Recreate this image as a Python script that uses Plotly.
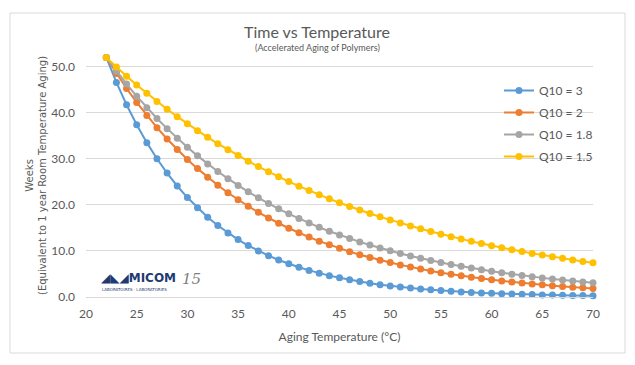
import plotly.graph_objects as go

temps = list(range(22, 71))

q10_3 = [52.0, 46.59, 41.74, 37.40, 33.51, 30.02, 26.90, 24.10, 21.59, 19.35,
         17.33, 15.53, 13.91, 12.47, 11.17, 10.01, 8.97, 8.03, 7.20, 6.45,
         5.78, 5.18, 4.64, 4.16, 3.72, 3.34, 2.99, 2.68, 2.40, 2.15,
         1.93, 1.73, 1.55, 1.39, 1.24, 1.11, 1.00, 0.89, 0.80, 0.72,
         0.64, 0.58, 0.52, 0.46, 0.41, 0.37, 0.33, 0.30, 0.27]

q10_2 = [52.0, 48.52, 45.27, 42.24, 39.41, 36.77, 34.31, 32.01, 29.87, 27.87,
         26.00, 24.26, 22.64, 21.12, 19.70, 18.39, 17.15, 16.01, 14.93, 13.93,
         13.00, 12.13, 11.32, 10.56, 9.85, 9.19, 8.58, 8.00, 7.47, 6.97,
         6.50, 6.07, 5.66, 5.28, 4.93, 4.60, 4.29, 4.00, 3.73, 3.48,
         3.25, 3.03, 2.83, 2.64, 2.46, 2.30, 2.14, 2.00, 1.87]

q10_18 = [52.0, 49.03, 46.23, 43.59, 41.11, 38.76, 36.55, 34.46, 32.49, 30.64,
          28.89, 27.24, 25.69, 24.22, 22.84, 21.53, 20.30, 19.14, 18.05, 17.02,
          16.05, 15.13, 14.27, 13.46, 12.69, 11.96, 11.28, 10.64, 10.03, 9.46,
          8.92, 8.41, 7.93, 7.48, 7.05, 6.65, 6.27, 5.91, 5.57, 5.25,
          4.95, 4.67, 4.40, 4.15, 3.92, 3.69, 3.48, 3.28, 3.10]

q10_15 = [52.0, 49.93, 47.95, 46.04, 44.22, 42.46, 40.77, 39.15, 37.60, 36.10,
          34.67, 33.29, 31.97, 30.70, 29.48, 28.31, 27.18, 26.10, 25.06, 24.07,
          23.11, 22.19, 21.31, 20.46, 19.65, 18.87, 18.12, 17.40, 16.71, 16.05,
          15.41, 14.80, 14.21, 13.64, 13.10, 12.58, 12.08, 11.60, 11.14, 10.70,
          10.27, 9.86, 9.47, 9.10, 8.73, 8.39, 8.05, 7.73, 7.43]

series_names = ["Q10 = 3", "Q10 = 2", "Q10 = 1.8", "Q10 = 1.5"]
series_vals = [q10_3, q10_2, q10_18, q10_15]
colors = ["#5B9BD5", "#ED7D31", "#A5A5A5", "#FFC000"]

x_ticks = [20, 25, 30, 35, 40, 45, 50, 55, 60, 65, 70]
y_ticks = [0, 10, 20, 30, 40, 50]

fig = go.Figure()
for i, (name, vals, col) in enumerate(zip(series_names, series_vals, colors)):
    fig.add_trace(go.Scatter(
        x=temps, y=vals, name=name, mode="lines+markers",
        line=dict(color=col, width=2),
        marker=dict(color=col, size=7),
        cliponaxis=False, legendgroup=str(i)))

font_main = "Lato, 'Open Sans', sans-serif"
grey = "#595959"

# page body has an 8px default margin; work in screen pixels and subtract it
OFF = 8
FW, FH = 635 - OFF, 365 - OFF
L, R, T, B = 86 - OFF, 593 - OFF, 56 - OFF, 297 - OFF
W, H = R - L, B - T


def px(x):
    return (x - OFF - L) / W


def py(y):
    return (B - (y - OFF)) / H


fig.update_layout(
    width=FW, height=FH,
    margin=dict(l=L, r=FW - R, t=T, b=FH - B, autoexpand=False),
    paper_bgcolor="white", plot_bgcolor="white",
    font=dict(family=font_main, color=grey, size=12),
    showlegend=True,
    legend=dict(x=px(499), y=py(76), xanchor="left", yanchor="top",
                bgcolor="rgba(0,0,0,0)", font=dict(size=12, color=grey),
                tracegroupgap=3, itemwidth=30),
    xaxis=dict(range=[20, 70], tickvals=x_ticks, showgrid=False,
               showline=True, linecolor="#d9d9d9", linewidth=1,
               ticks="", zeroline=False, ticklabelstandoff=6, automargin=False,
               tickfont=dict(size=12, color=grey),
               title=dict(text="Aging Temperature (°C)", font=dict(size=12, color=grey),
                          standoff=12)),
    yaxis=dict(range=[0, 52.32], tickvals=y_ticks, tickformat=".1f",
               showgrid=True, gridcolor="#d9d9d9", gridwidth=1,
               zeroline=False, showline=False, ticks="", ticklabelstandoff=10,
               automargin=False,
               tickfont=dict(size=12, color=grey)),
)

# y-axis title (two lines, rotated)
fig.add_annotation(text="Weeks<br>(Equivalent to 1 year Room Temperature Aging)",
                   xref="paper", yref="paper", x=px(36), y=py(176),
                   xanchor="center", yanchor="middle", textangle=-90, showarrow=False,
                   font=dict(size=10, family="DejaVu Sans", color=grey))

# outer chart border
fig.add_shape(type="rect", xref="paper", yref="paper",
              x0=px(10), x1=px(625), y0=py(353), y1=py(13),
              line=dict(color="#d9d9d9", width=1), fillcolor="rgba(0,0,0,0)", layer="below")

fig.add_annotation(text="Time vs Temperature", xref="paper", yref="paper",
                   x=px(317), y=py(32), showarrow=False, yanchor="middle",
                   font=dict(size=16, color=grey, family=font_main))
fig.add_annotation(text="(Accelerated Aging of Polymers)", xref="paper", yref="paper",
                   x=px(317), y=py(48), showarrow=False, yanchor="middle",
                   font=dict(size=9, color=grey, family=font_main))

# logo approximation
fig.add_annotation(text="<b>◢◣◢MICOM</b>", xref="paper", yref="paper",
                   x=px(99), y=py(278), xanchor="left", yanchor="middle",
                   showarrow=False, font=dict(size=12, color="#1F3B73", family="DejaVu Sans"))
fig.add_annotation(text="<i>15</i>", xref="paper", yref="paper",
                   x=px(180), y=py(279), xanchor="left", yanchor="middle",
                   showarrow=False, font=dict(size=15, color="#7f7f7f", family="DejaVu Serif"))
fig.add_annotation(text="LABORATOIRES · LABORATORIES", xref="paper", yref="paper",
                   x=px(100), y=py(289), xanchor="left", yanchor="middle",
                   showarrow=False, font=dict(size=4, color="#1F3B73", family="DejaVu Sans"))

fig.write_html("out.html")
